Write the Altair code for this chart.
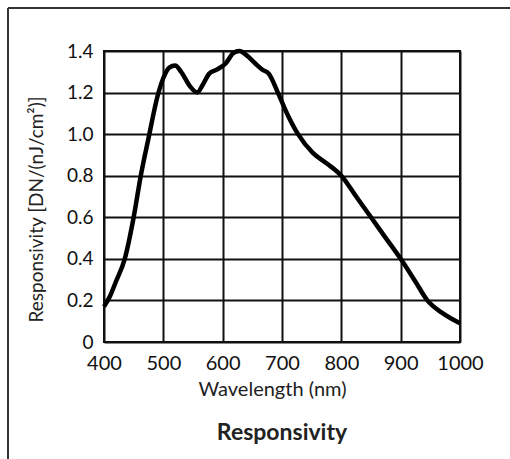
import altair as alt
import pandas as pd

wavelength = [400, 410, 420, 435, 450, 462, 475, 490, 500, 510, 520, 530, 545, 557, 567, 577, 590,
              605, 618, 628, 640, 655, 667, 678, 693, 710, 727, 752, 775, 800, 825, 850, 875, 900,
              925, 945, 970, 1000]
responsivity = [0.17, 0.22, 0.29, 0.40, 0.60, 0.80, 0.98, 1.18, 1.27, 1.32, 1.33, 1.30, 1.23, 1.20,
                1.24, 1.29, 1.31, 1.34, 1.39, 1.40, 1.38, 1.34, 1.31, 1.29, 1.20, 1.09, 1.00, 0.91,
                0.86, 0.80, 0.70, 0.60, 0.50, 0.40, 0.29, 0.20, 0.14, 0.09]
x_ticks = [400, 500, 600, 700, 800, 900, 1000]
y_ticks = [0, 0.2, 0.4, 0.6, 0.8, 1.0, 1.2, 1.4]

df = pd.DataFrame({"wl": wavelength, "r": responsivity})

FONT = "Lato"

line = alt.Chart(df).mark_line(color="black", strokeWidth=4.5, interpolate="monotone").encode(
    x=alt.X("wl:Q", scale=alt.Scale(domain=[400, 1000], nice=False, zero=False),
            axis=alt.Axis(values=x_ticks, title="Wavelength (nm)", format="d",
                          labelFontSize=20, titleFontSize=20, titleFontWeight="normal",
                          labelPadding=11, titlePadding=6, ticks=False, grid=True,
                          labelOverlap=False, labelFlush=False, titleX=168)),
    y=alt.Y("r:Q", scale=alt.Scale(domain=[0, 1.4], nice=False),
            axis=alt.Axis(values=y_ticks, title="Responsivity [DN/(nJ/cm²)]",
                          labelExpr="datum.value == 0 ? '0' : format(datum.value, '.1f')",
                          labelFontSize=19, titleFontSize=19, titleFontWeight="normal",
                          labelPadding=11, titlePadding=20, ticks=False, grid=True,
                          labelOverlap=False, titleY=158)),
)

frame_left = alt.Chart(df).mark_rule(color="#333333", strokeWidth=2).encode(
    x=alt.value(-96), y=alt.value(-43), y2=alt.value(410)
)
frame_top = alt.Chart(df).mark_rule(color="#333333", strokeWidth=2).encode(
    y=alt.value(-43), x=alt.value(-96), x2=alt.value(420)
)

chart = alt.layer(frame_left, frame_top, line).properties(
    width=356, height=291,
    background="white",
    autosize=alt.AutoSizeParams(type="none"),
    padding={"left": 104, "top": 51, "right": 50, "bottom": 117},
    title=alt.TitleParams("Responsivity", orient="bottom", fontSize=23, fontWeight="bold",
                          font=FONT, color="#222222", offset=-40),
).configure_axis(
    labelFont=FONT, titleFont=FONT, labelColor="#111111", titleColor="#222222",
    gridColor="#111111", gridWidth=2, gridOpacity=1, domain=False,
).configure_view(
    stroke="#111111", strokeWidth=2
)

chart.save("out.html", embed_options={"renderer": "svg", "actions": False})
